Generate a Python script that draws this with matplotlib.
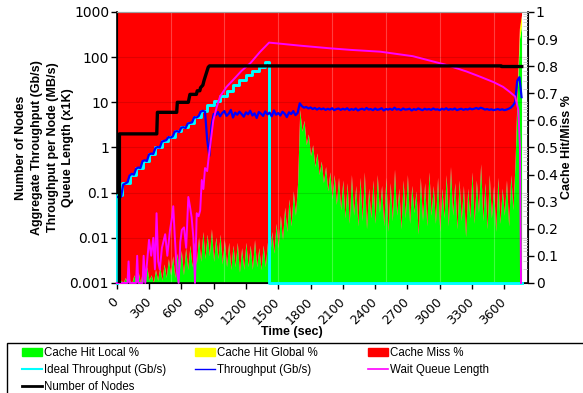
import numpy as np
import matplotlib
matplotlib.use('Agg')
import matplotlib.pyplot as plt
from matplotlib.patches import Patch, Rectangle
from matplotlib.lines import Line2D
from matplotlib.ticker import FuncFormatter

plt.rcParams['font.family'] = ['Liberation Sans', 'DejaVu Sans']

# --- data ---
# sample times (sec) for cache % and throughput
time_s = np.arange(0, 3761, 20)

hit_local = [
    0, 0, 0.01, 0, 0.02, 0, 0.01,
    0.0, 0.03, 0.0, 0.04, 0.0, 0.05, 0.0, 0.06, 0.01, 0.03, 0.0, 0.05, 0.01, 0.06,
    0.01, 0.07, 0.02, 0.09, 0.03, 0.1, 0.02, 0.11, 0.04, 0.12, 0.03, 0.13, 0.05, 0.14, 0.06, 0.15, 0.07, 0.17,
    0.08, 0.19, 0.09, 0.18, 0.1, 0.2, 0.08, 0.17, 0.09, 0.18, 0.07, 0.16,
    0.06, 0.15, 0.05, 0.14, 0.06, 0.15, 0.04, 0.13, 0.05, 0.15, 0.06, 0.14, 0.05, 0.16, 0.06, 0.13, 0.05, 0.14, 0.06, 0.15,
    0.09, 0.19, 0.11, 0.22, 0.13, 0.25, 0.16, 0.28, 0.19, 0.31, 0.21, 0.34, 0.25, 0.37,
    0.64, 0.56, 0.6, 0.51, 0.55, 0.47, 0.51, 0.43, 0.48, 0.4, 0.45, 0.37, 0.43, 0.34, 0.41, 0.31, 0.4, 0.29, 0.39, 0.27, 0.38,
    0.24, 0.37, 0.22, 0.4, 0.25, 0.36, 0.21, 0.39, 0.23, 0.41, 0.2, 0.35, 0.24, 0.38, 0.22, 0.4, 0.26, 0.36, 0.21, 0.39,
    0.19, 0.37, 0.23, 0.42, 0.25, 0.35, 0.2, 0.38, 0.24, 0.4, 0.22, 0.36, 0.26, 0.34, 0.18, 0.39, 0.23, 0.37, 0.21, 0.41,
    0.25, 0.36, 0.22, 0.39, 0.19, 0.35, 0.24, 0.4, 0.21, 0.43, 0.25, 0.37, 0.2, 0.38, 0.23, 0.36, 0.17, 0.35, 0.24, 0.41,
    0.22, 0.38, 0.26, 0.44, 0.23, 0.37, 0.2, 0.4, 0.24, 0.36, 0.19, 0.39, 0.22, 0.35, 0.25, 0.38, 0.21, 0.4, 0.27,
    0.45, 0.7, 0.9, 0.95,
]
hit_global = [0.0] * 185 + [0.0, 0.02, 0.04, 0.04]

throughput = [
    0.08, 0.08, 0.08, 0.15, 0.16, 0.17, 0.24, 0.26, 0.25, 0.34, 0.36, 0.35, 0.5, 0.52, 0.5,
    0.7, 0.73, 0.72, 0.98, 1.02, 1.0, 1.35, 1.4, 1.45, 1.7, 1.65, 1.75, 2.25, 2.3, 2.2,
    2.75, 2.8, 2.7, 3.4, 3.5, 3.6, 4.7, 4.6, 4.9, 6.2, 6.5, 6.2, 1.5, 0.65, 3.0, 5.5,
    5.2, 6.1, 4.9, 5.8, 6.4, 5.0, 5.6, 6.8, 4.6, 5.9, 5.3, 6.2, 5.5, 4.8, 6.0, 5.4, 6.5, 5.1, 5.7, 4.5,
    6.1, 5.6, 5.0, 6.3, 5.4, 5.9, 4.9, 6.6, 5.3, 5.8, 5.1, 6.2, 5.6, 4.7, 6.0, 5.5, 6.4, 5.2, 5.8,
    9.5,
    8.2, 7.6, 7.9, 7.3, 7.7, 7.1, 7.5, 6.9, 7.4, 7.0, 7.3, 6.8, 7.2, 6.9, 7.4, 6.7, 7.1, 7.3, 6.8, 7.2,
    6.9, 7.4, 6.7, 7.1, 6.8, 7.3, 6.6, 7.0, 7.2, 6.8, 7.5, 6.9, 7.1, 6.7, 7.3, 6.8, 7.0, 7.4, 6.6, 7.1,
    6.9, 7.2, 6.8, 7.6, 6.9, 7.1, 6.7, 7.3, 6.9, 7.0, 7.2, 6.6, 7.1, 6.8, 7.3, 7.0, 6.7, 7.2, 6.9, 7.1,
    6.8, 7.3, 6.9, 7.0, 6.7, 7.2, 6.9, 7.4, 6.8, 7.1, 6.9, 7.3, 6.7, 7.0, 7.2, 6.8, 7.1, 6.9, 7.3, 7.0,
    7.2, 7.5, 7.1, 7.6, 7.3, 6.9, 7.1, 6.8, 7.0, 6.7, 6.9, 7.1, 6.8, 7.0, 6.7, 6.9, 7.2, 7.6, 8.5,
    10, 30, 36, 13,
]

# ideal throughput, step starts
ideal_t = [0, 0, 50, 120, 180, 240, 300, 360, 420, 480, 540, 600, 660, 720, 780, 840,
           900, 960, 1020, 1080, 1140, 1200, 1260, 1320, 1380, 1415, 3760]
ideal = [0.001, 0.09, 0.16, 0.25, 0.35, 0.5, 0.72, 1.0, 1.4, 1.7, 2.3, 2.8, 3.5, 4.8, 6.5, 8.5,
         10.5, 14, 18, 24, 31, 40, 50, 62, 78, 0.001, 0.001]

# wait queue length (x1K)
queue_t = [0, 100, 110, 120, 180, 190, 200, 240, 250, 265, 300, 320, 340, 355, 370, 385,
           400, 420, 450, 470, 495, 510, 525, 540, 557, 575, 590, 605, 625, 645, 665, 680,
           696, 712, 727, 743, 760, 775, 790, 805, 820, 840, 855, 875, 897, 930, 960, 1020,
           1080, 1160, 1240, 1330, 1415, 1700, 1980, 2170, 2450, 2750, 3065, 3250, 3374, 3500,
           3588, 3650, 3700, 3730, 3745, 3755]
queue = [0.001, 0.001, 0.003, 0.001, 0.001, 0.004, 0.001, 0.001, 0.004, 0.001, 0.009, 0.004,
         0.01, 0.002, 0.035, 0.003, 0.002, 0.006, 0.012, 0.004, 0.015, 0.025, 0.05, 0.01,
         0.002, 0.001, 0.008, 0.015, 0.017, 0.006, 0.08, 0.05, 0.028, 0.01, 0.001, 0.035,
         0.03, 0.04, 0.19, 0.12, 0.35, 0.3, 0.63, 1.5, 4.0, 8, 13.5, 22, 31, 50, 73, 130,
         210, 180, 157, 145, 132, 105, 67, 48, 37, 28, 22, 17, 13.5, 6.8, 1, 0.001]

# number of nodes
nodes_t = [25, 25, 372, 378, 557, 563, 665, 680, 740, 748, 772, 778, 800, 812, 850, 862,
           3570, 3576, 3762]
nodes = [0.001, 2, 2, 6, 6, 10, 10, 15, 15, 18, 18, 21, 24, 31, 60, 64, 64, 62, 62]

time_ticks = list(range(0, 3601, 300))
log_ticks = [0.001, 0.01, 0.1, 1, 10, 100, 1000]
pct_ticks = [0, 0.1, 0.2, 0.3, 0.4, 0.5, 0.6, 0.7, 0.8, 0.9, 1]

GREEN, YELLOW, RED = '#00ff00', '#ffff00', '#ff0000'

fig = plt.figure(figsize=(5.83, 3.93), dpi=100)
ax = fig.add_axes([0.2002, 0.28, 0.7055, 0.6895])
ax2 = ax.twinx()
ax.set_zorder(ax2.get_zorder() + 1)
ax.patch.set_visible(False)

# stacked cache % areas on the right axis
loc = np.array(hit_local)
glob = np.array(hit_global)
ax2.fill_between(time_s, 0, loc, color=GREEN, lw=0)
ax2.fill_between(time_s, loc, loc + glob, color=YELLOW, lw=0)
ax2.fill_between(time_s, loc + glob, 1, color=RED, lw=0)
ax2.set_ylim(0, 1)
ax2.set_yticks(pct_ticks)
ax2.yaxis.set_major_formatter(FuncFormatter(lambda v, p: '{:g}'.format(v)))

# faint grid
for x in range(500, 3501, 500):
    ax.axvline(x, color='white', alpha=0.25, lw=0.8, zorder=1)
for v in log_ticks[1:-1]:
    ax.axhline(v, color='black', alpha=0.12, lw=0.8, zorder=1)
minor = [k * 10.0 ** e for e in range(-3, 3) for k in range(2, 10)]
ax.hlines(minor + log_ticks, 3775, 3820, color='#c8c8c8', lw=0.6, zorder=1)

# lines on the log axis
ax.plot(ideal_t, ideal, color='#00ffff', lw=2.1, drawstyle='steps-post', zorder=3, clip_on=False)
ax.plot(time_s, throughput, color='#0000ff', lw=1.6, zorder=4)
ax.plot(queue_t, queue, color='#ff00ff', lw=1.4, zorder=5, clip_on=False)
ax.plot(nodes_t, nodes, color='black', lw=2.4, zorder=6)

ax.set_yscale('log')
ax.set_ylim(0.001, 1000)
ax.set_yticks(log_ticks)
ax.yaxis.set_major_formatter(FuncFormatter(lambda v, p: '{:g}'.format(v)))
ax.yaxis.set_minor_locator(matplotlib.ticker.NullLocator())
ax.set_xlim(0, 3820)
ax.set_xticks(time_ticks)
ax.set_xticklabels([str(t) for t in time_ticks], rotation=45, ha='right', va='center',
                   rotation_mode='anchor', family='DejaVu Sans', fontsize=9)

for a in (ax, ax2):
    a.tick_params(direction='out', length=4, width=1, labelsize=10, pad=1.5)
    for lab in a.get_yticklabels():
        lab.set_family('DejaVu Sans')
    a.spines['top'].set_color('#a0a0a0')
    a.spines['top'].set_linewidth(0.8)
ax.tick_params(axis='x', pad=8, labelsize=9)
ax.spines['left'].set_linewidth(1.2)
ax.spines['bottom'].set_linewidth(1.2)
ax2.spines['right'].set_linewidth(1.2)

fig.text(0.077, 0.6247,
         'Number of Nodes\nAggregate Throughput (Gb/s)\nThroughput per Node (MB/s)\nQueue Length (x1K)',
         rotation=90, ha='center', va='center', ma='center', fontsize=9, fontweight='bold',
         linespacing=1.4)
fig.text(0.9726, 0.6247, 'Cache Hit/Miss %', rotation=90, ha='center', va='center',
         fontsize=9, fontweight='bold')
fig.text(0.5, 0.156, 'Time (sec)', ha='center', va='center', fontsize=9, fontweight='bold')

# legend: boxed, three columns
fig.add_artist(Rectangle((0.012, -0.05), 1.1, 0.1272 + 0.05, transform=fig.transFigure,
                         fill=False, edgecolor='black', lw=1))
cols = [
    ([Patch(color=GREEN), Line2D([], [], color='#00ffff', lw=1.5), Line2D([], [], color='black', lw=2)],
     ['Cache Hit Local %', 'Ideal Throughput (Gb/s)', 'Number of Nodes']),
    ([Patch(color=YELLOW), Line2D([], [], color='#0000ff', lw=1)],
     ['Cache Hit Global %', 'Throughput (Gb/s)']),
    ([Patch(color=RED), Line2D([], [], color='#ff00ff', lw=1.2)],
     ['Cache Miss %', 'Wait Queue Length']),
]
for (h, l), x in zip(cols, [0.0377, 0.3345, 0.631]):
    fig.legend(h, l, loc='upper left', bbox_to_anchor=(x, 0.117), frameon=False, fontsize=8.3,
               handlelength=1.75, handleheight=0.7, handletextpad=0.2, labelspacing=0.45,
               borderpad=0, borderaxespad=0)

fig.savefig('out.png', dpi=100)
